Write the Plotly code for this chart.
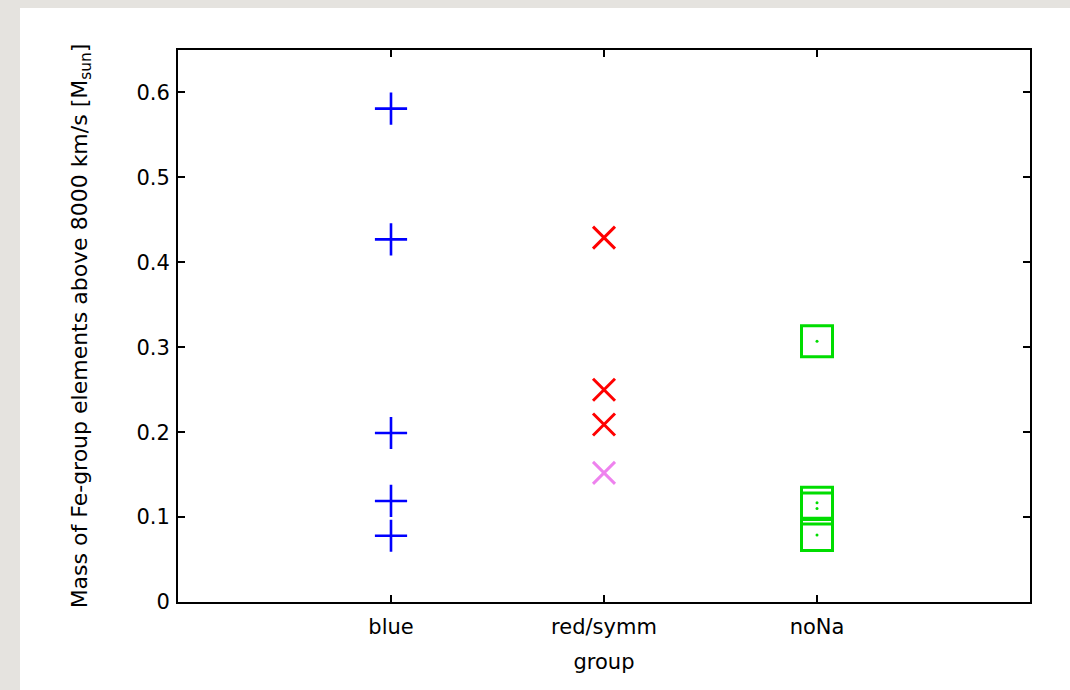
import plotly.graph_objects as go

categories = ["blue", "red/symm", "noNa"]
cat_pos = [1, 2, 3]

blue_vals = [0.581, 0.427, 0.199, 0.119, 0.078]
red_vals = [0.429, 0.250, 0.209]
violet_vals = [0.152]
green_vals = [0.307, 0.117, 0.110, 0.079]

y_ticks = [0, 0.1, 0.2, 0.3, 0.4, 0.5, 0.6]
y_ticktext = ["0", "0.1", "0.2", "0.3", "0.4", "0.5", "0.6"]

W, H = 1070, 690
L, R, T, B = 178, 40, 50, 88
pw, ph = W - L - R, H - T - B

FONT = "DejaVu Sans, Liberation Sans, Arial, sans-serif"
FS = 21

fig = go.Figure()

fig.add_trace(go.Scatter(
    x=[cat_pos[0]] * len(blue_vals), y=blue_vals, mode="markers",
    marker=dict(symbol="cross-thin-open", size=23, color="#0000ff",
                line=dict(color="#0000ff", width=2.6)),
    showlegend=False, hoverinfo="y"))

fig.add_trace(go.Scatter(
    x=[cat_pos[1]] * len(red_vals), y=red_vals, mode="markers",
    marker=dict(symbol="x-thin-open", size=22, color="#ff0000",
                line=dict(color="#ff0000", width=3)),
    showlegend=False, hoverinfo="y"))

fig.add_trace(go.Scatter(
    x=[cat_pos[1]] * len(violet_vals), y=violet_vals, mode="markers",
    marker=dict(symbol="x-thin-open", size=22, color="#ee82ee",
                line=dict(color="#ee82ee", width=3)),
    showlegend=False, hoverinfo="y"))

fig.add_trace(go.Scatter(
    x=[cat_pos[2]] * len(green_vals), y=green_vals, mode="markers",
    marker=dict(symbol="square-open", size=31, color="#00dd00",
                line=dict(color="#00dd00", width=3)),
    showlegend=False, hoverinfo="y"))

fig.add_trace(go.Scatter(
    x=[cat_pos[2]] * len(green_vals), y=green_vals, mode="markers",
    marker=dict(symbol="circle", size=3, color="#00dd00"),
    showlegend=False, hoverinfo="skip"))

# white card on gray background
fig.add_shape(type="rect", xref="paper", yref="paper", layer="below",
              x0=(20 - L) / pw, x1=(W + 20 - L) / pw,
              y0=-(B + 20) / ph, y1=(T + ph - 8) / ph,
              fillcolor="white", line=dict(width=0))

fig.update_layout(
    width=W, height=H,
    margin=dict(l=L, r=R, t=T, b=B),
    paper_bgcolor="#e5e3df",
    plot_bgcolor="white",
    font=dict(family=FONT, size=FS, color="black"),
    xaxis=dict(
        range=[0, 4], tickvals=cat_pos, ticktext=categories,
        showline=True, linecolor="black", linewidth=2, mirror="allticks",
        ticks="inside", ticklen=7, tickwidth=2, tickcolor="black",
        showgrid=False, zeroline=False,
        tickfont=dict(family=FONT, size=FS),
        ticklabelstandoff=5,
        title=dict(text="group", font=dict(family=FONT, size=FS), standoff=16),
    ),
    yaxis=dict(
        range=[0, 0.65], tickvals=y_ticks, ticktext=y_ticktext,
        showline=True, linecolor="black", linewidth=2, mirror="allticks",
        ticks="inside", ticklen=7, tickwidth=2, tickcolor="black",
        showgrid=False, zeroline=False,
        tickfont=dict(family=FONT, size=FS),
        ticklabelstandoff=2,
        title=dict(text="Mass of Fe-group elements above 8000 km/s [M<sub>sun</sub>]",
                   font=dict(family=FONT, size=22), standoff=43),
    ),
)

fig.write_html("out.html")
